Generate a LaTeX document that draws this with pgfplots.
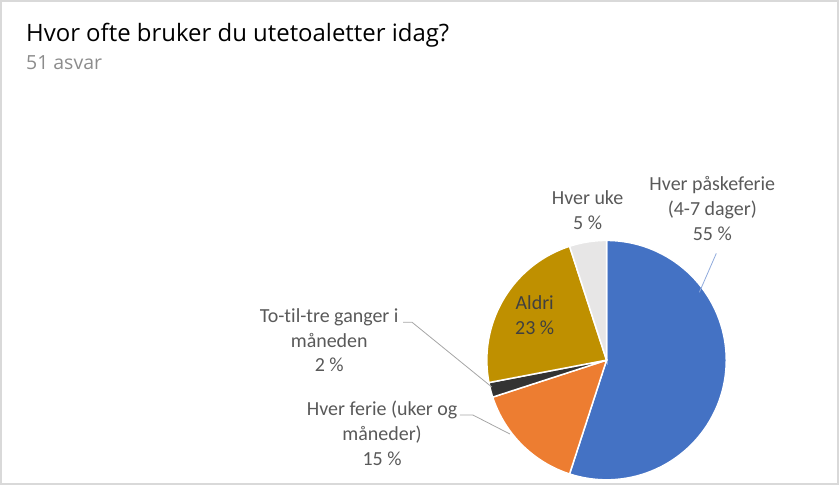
\documentclass[border=0pt]{standalone}
\usepackage{pgfplots}
\usepackage{pgfplotstable}
\pgfplotsset{compat=1.18}
\usepackage{fontspec}
\setmainfont[Ligatures=NoCommon]{Carlito}
\newfontfamily\titlefont{Open Sans}

\definecolor{cBlue}{HTML}{4472C4}
\definecolor{cOrange}{HTML}{ED7D31}
\definecolor{cDark}{HTML}{333333}
\definecolor{cGold}{HTML}{BF9000}
\definecolor{cLight}{HTML}{E7E6E6}
\definecolor{txt}{HTML}{595959}
\definecolor{sub}{HTML}{8C8C8C}
\definecolor{lead}{HTML}{A6A6A6}
\definecolor{frame}{HTML}{D9D9D9}

% shares in percent, clockwise from 12 o'clock
\pgfplotstableread{
share
55
15
2
23
5
}\piedata

\begin{document}
\begin{tikzpicture}
\pgfplotstablegetelem{0}{share}\of\piedata \pgfmathsetmacro\aA{90-3.6*\pgfplotsretval}
\pgfplotstablegetelem{1}{share}\of\piedata \pgfmathsetmacro\aB{\aA-3.6*\pgfplotsretval}
\pgfplotstablegetelem{2}{share}\of\piedata \pgfmathsetmacro\aC{\aB-3.6*\pgfplotsretval}
\pgfplotstablegetelem{3}{share}\of\piedata \pgfmathsetmacro\aD{\aC-3.6*\pgfplotsretval}
\pgfplotstablegetelem{4}{share}\of\piedata \pgfmathsetmacro\aE{\aD-3.6*\pgfplotsretval}
\begin{axis}[
  scale only axis, width=839pt, height=484pt,
  xmin=0, xmax=839, ymin=0, ymax=484,
  hide axis, clip=false,
  samples=80,
]
\addplot[fill=cBlue, draw=white, line width=1.5pt, domain=\aA:90]
  ({607+120*cos(x)},{124+120*sin(x)}) -- (axis cs:607,124) -- cycle;
\addplot[fill=cOrange, draw=white, line width=1.5pt, domain=\aB:\aA]
  ({607+120*cos(x)},{124+120*sin(x)}) -- (axis cs:607,124) -- cycle;
\addplot[fill=cDark, draw=white, line width=1.5pt, domain=\aC:\aB, samples=10]
  ({607+120*cos(x)},{124+120*sin(x)}) -- (axis cs:607,124) -- cycle;
\addplot[fill=cGold, draw=white, line width=1.5pt, domain=\aD:\aC]
  ({607+120*cos(x)},{124+120*sin(x)}) -- (axis cs:607,124) -- cycle;
\addplot[fill=cLight, draw=white, line width=1.5pt, domain=\aE:\aD, samples=20]
  ({607+120*cos(x)},{124+120*sin(x)}) -- (axis cs:607,124) -- cycle;

% leader lines
\draw[cBlue!60, line width=0.8pt] (axis cs:717,231) -- (axis cs:700,192);
\draw[lead, line width=0.8pt] (axis cs:403,162) -- (axis cs:412,162) -- (axis cs:492,97);
\draw[lead, line width=0.8pt] (axis cs:460,69) -- (axis cs:473,69) -- (axis cs:510,50);

% labels
\node[txt, align=center, font=\fontsize{20}{25}\selectfont] at (axis cs:713,276) {Hver påskeferie\\(4-7 dager)\\55 \%};
\node[txt, align=center, font=\fontsize{20}{25}\selectfont] at (axis cs:588,274.5) {Hver uke\\5 \%};
\node[color=black!75, align=center, font=\fontsize{20}{25}\selectfont] at (axis cs:535,169.5) {Aldri\\23 \%};
\node[txt, align=center, font=\fontsize{20}{25}\selectfont] at (axis cs:329,144) {To-til-tre ganger i\\måneden\\2 \%};
\node[txt, align=center, font=\fontsize{20}{25}\selectfont] at (axis cs:382,51) {Hver ferie (uker og\\måneder)\\15 \%};

% title
\node[anchor=base west, inner sep=0pt, font=\titlefont\fontsize{24}{28}\selectfont] at (axis cs:25,443) {Hvor ofte bruker du utetoaletter idag?};
\node[anchor=base west, inner sep=0pt, sub, font=\titlefont\fontsize{19.5}{23}\selectfont] at (axis cs:25,415) {51 asvar};

\draw[frame, line width=2pt] (axis cs:0,0) rectangle (axis cs:839,484);
\end{axis}
\end{tikzpicture}
\end{document}
